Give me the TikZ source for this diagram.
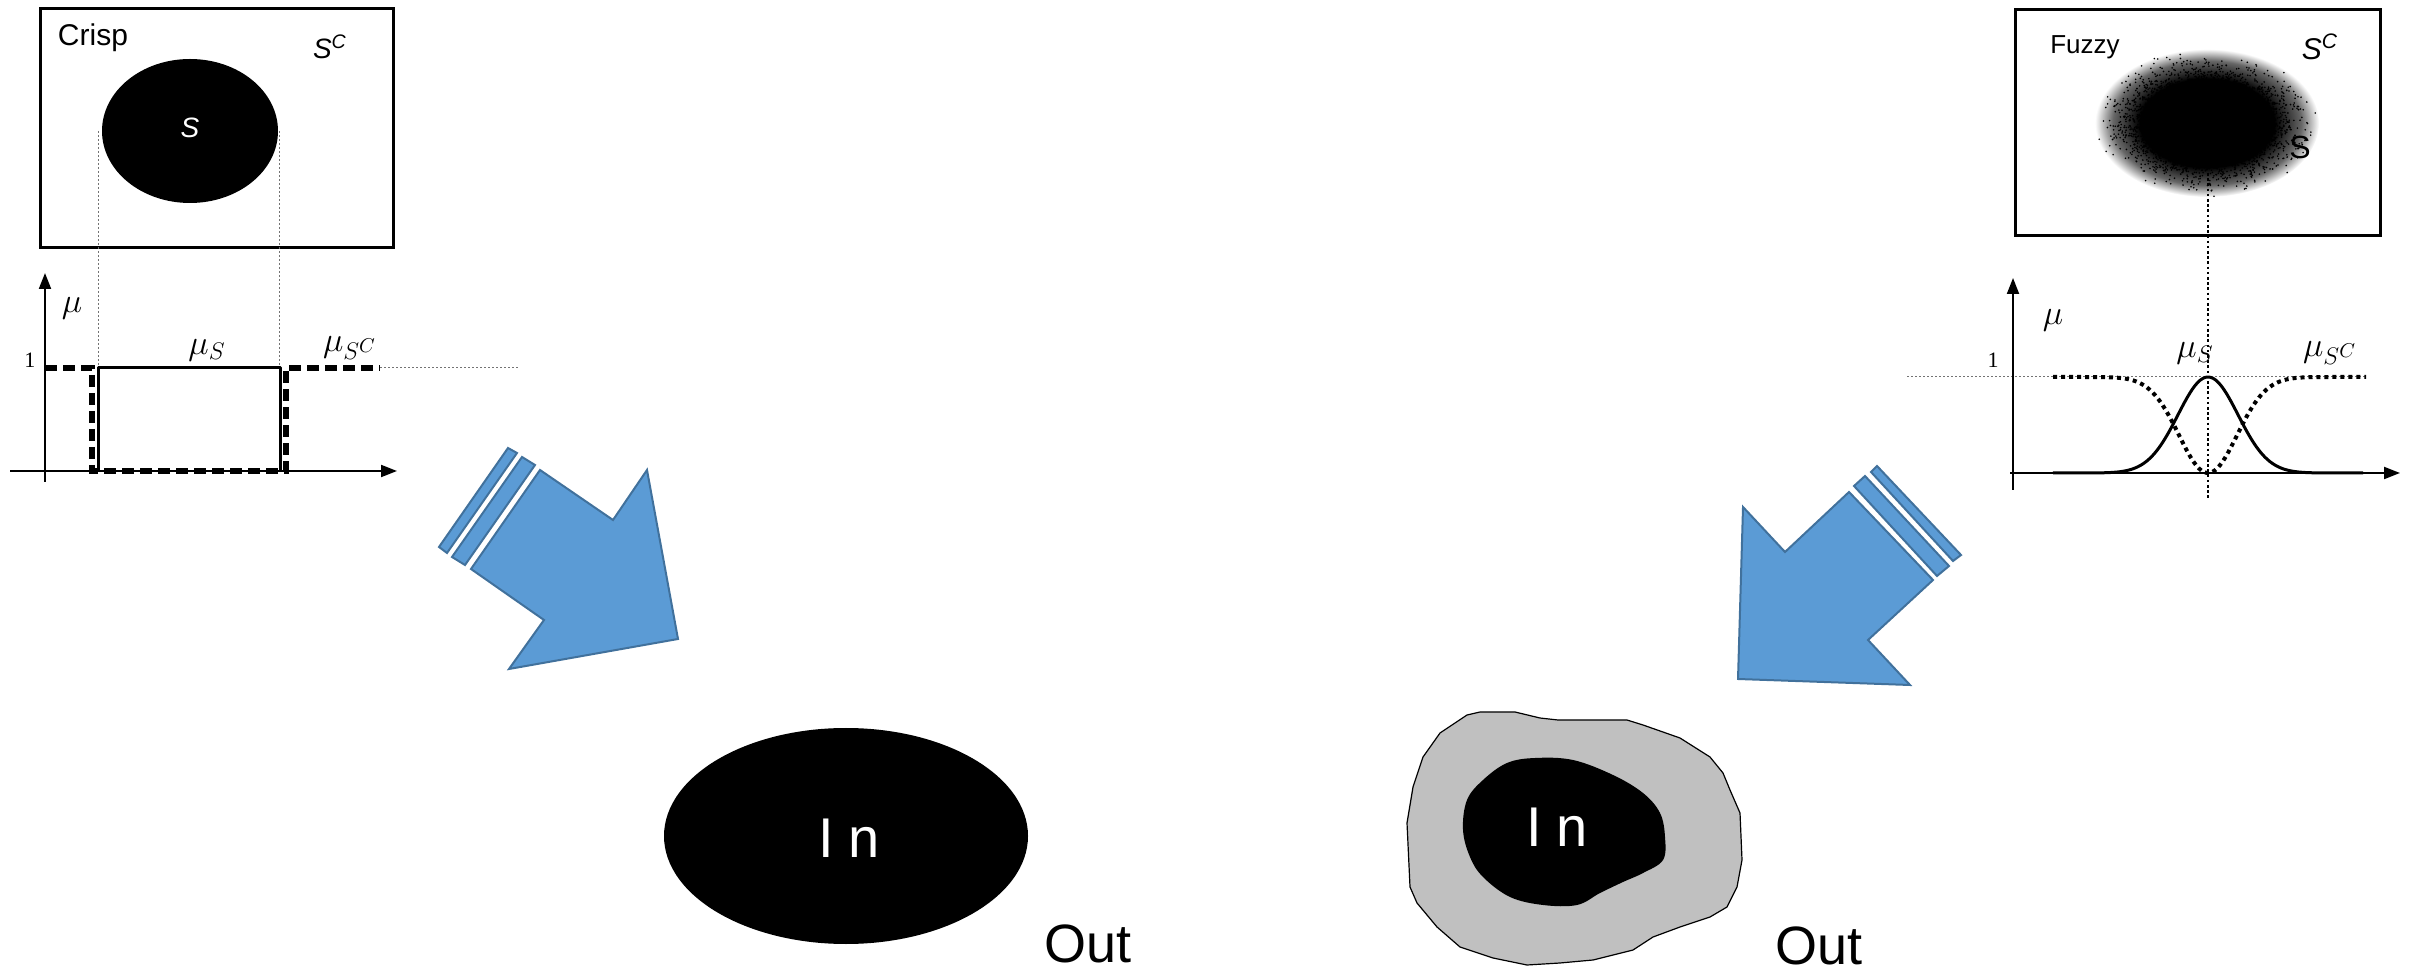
\documentclass[tikz,border=0pt]{standalone}
\usepackage{fontspec}
\setmainfont{Liberation Sans}
\newfontfamily\seriffam{Liberation Serif}
\usetikzlibrary{arrows.meta}
\definecolor{arrowblue}{HTML}{5B9BD5}
\definecolor{arrowedge}{HTML}{41719C}
\definecolor{ringgray}{HTML}{C0C0C0}
\pgfdeclareradialshading{fuzzblob}{\pgfpointorigin}{color(0bp)=(black); color(15bp)=(black); color(21bp)=(black!60); color(25bp)=(white); color(50bp)=(white)}
\begin{document}
\begin{tikzpicture}[x=0.5pt,y=-0.5pt,
  frame/.style={draw=black,line width=1.5pt},
  axis/.style={line width=1pt,-{Triangle[length=8pt,width=6pt]}},
  guide/.style={draw=black!55,line width=0.5pt,dash pattern=on 1pt off 1pt},
  vdots/.style={draw=black,line width=1.3pt,dash pattern=on 1.3pt off 1.3pt},
  mus/.style={line width=1.5pt,line join=round},
  musc/.style={line width=3pt,dash pattern=on 6pt off 3pt},
  cdots/.style={line width=2pt,dash pattern=on 2pt off 2pt},
  bigarrow/.style={fill=arrowblue,draw=arrowedge,line width=1pt,line join=miter},
  lab/.style={inner sep=0pt},
  mulab/.style={inner sep=0pt,font=\fontsize{17.28}{20}\selectfont},
  onelab/.style={inner sep=0pt,font=\seriffam\fontsize{11}{12}\selectfont},
  inlab/.style={inner sep=0pt,text=white,font=\fontsize{28}{32}\selectfont},
  outlab/.style={inner sep=0pt,font=\fontsize{27}{30}\selectfont}]
\useasboundingbox (0,0) rectangle (2414,977);

% ---------------- Crisp panel ----------------
\draw[frame] (40,9) rectangle (393,248);
\fill[black] (190,131) ellipse [x radius=88, y radius=72];
\node[lab,font=\fontsize{15}{18}\selectfont] (crisp) at (93,38) {Crisp};
\node[lab,font=\fontsize{14}{16}\selectfont] (sc1) at (330,47) {\textit{S}\textsuperscript{\textit{C}}};
\node[lab,text=white,font=\fontsize{14}{16}\selectfont] (s1) at (190,128) {\textit{S}};

\draw[guide] (98,131) -- (98,368);
\draw[guide] (279,131) -- (279,368);
\draw[guide] (380,368) -- (520,368);
\draw[mus] (98,471) -- (98,368) -- (280,368) -- (280,471);
\draw[musc] (45,368) -- (92,368) -- (92,471) -- (286,471) -- (286,368) -- (380,368);
\draw[axis] (45,482) -- (45,273);
\draw[axis] (10,471) -- (397,471);
\node[mulab] (mu1) at (72,308) {$\mu$};
\node[onelab] (one1) at (30,360) {1};
\node[mulab] (mus1) at (207,350) {$\mu_S$};
\node[mulab] (musc1) at (350,348) {$\mu_{S^C}$};

% ---------------- Fuzzy panel ----------------
\draw[frame] (2015,10) rectangle (2380,236);
\shade[shading=fuzzblob] (2207,123) ellipse [x radius=112, y radius=74];
\pgfmathsetseed{7}
\foreach \i in {1,...,1800}{
  \pgfmathsetmacro{\rr}{0.6+0.5*rnd*rnd}
  \pgfmathsetmacro{\aa}{360*rnd}
  \fill[black] ({2207+105*\rr*cos(\aa)},{123+68*\rr*sin(\aa)}) circle[radius=0.9];
}
\node[lab,font=\fontsize{13}{16}\selectfont] (fuzzy) at (2085,47) {Fuzzy};
\node[lab,font=\fontsize{15}{18}\selectfont] (sc2) at (2320,47) {\textit{S}\textsuperscript{\textit{C}}};
\node[lab,font=\fontsize{16}{18}\selectfont] (s2) at (2300,147) {S};

\draw[guide] (1907,377) -- (2367,377);
\draw[vdots] (2208,173) -- (2208,500);
\draw[mus] (2053,473) -- plot[domain=-155:155,samples=121] ({2208+\x},{473-96*exp(-0.5*(\x/30)^2)});
\draw[cdots] plot[domain=-155:158,samples=121] ({2208+\x},{473-96*(1-exp(-0.5*(\x/29)^2))});
\draw[axis] (2013,490) -- (2013,278);
\draw[axis] (2010,473) -- (2400,473);
\node[mulab] (mu2) at (2053,320) {$\mu$};
\node[onelab] (one2) at (1993,360) {1};
\node[mulab] (mus2) at (2195,353) {$\mu_S$};
\node[mulab] (musc2) at (2330,353) {$\mu_{S^C}$};

% ---------------- Big arrows ----------------
\draw[bigarrow] (508,448) -- (517,453) -- (447,553) -- (439,547) -- cycle;
\draw[bigarrow] (522,457) -- (535,465) -- (465,565) -- (452,557) -- cycle;
\draw[bigarrow] (471,569) -- (540,470) -- (613,520) -- (647,470) -- (678,639) -- (509,669) -- (544,620) -- cycle;

\draw[bigarrow] (1877,466) -- (1961,555) -- (1953,561) -- (1871,472) -- cycle;
\draw[bigarrow] (1865,476) -- (1949,566) -- (1937,576) -- (1854,486) -- cycle;
\draw[bigarrow] (1849,492) -- (1933,580) -- (1868,640) -- (1910,685) -- (1738,679) -- (1743,507) -- (1785,552) -- cycle;

% ---------------- Crisp result ----------------
\fill[black] (846,836) ellipse [x radius=182, y radius=108];
\node[inlab] (in1) at (849,838) {I\hspace{7pt}n};
\node[outlab] (out1) at (1088,944) {Out};

% ---------------- Fuzzy result ----------------
\draw[fill=ringgray,draw=black,line width=0.6pt,line join=round]
  (1480,712) -- (1515,712) -- (1540,718) -- (1558,720) -- (1627,720) -- (1643,725) -- (1680,738) -- (1710,757) -- (1723,773) -- (1730,790) -- (1740,813) -- (1742,860) -- (1737,887) -- (1727,907) -- (1710,917) -- (1680,927) -- (1653,937) -- (1633,950) -- (1593,960) -- (1560,963) -- (1527,965) -- (1493,958) -- (1460,947) -- (1437,927) -- (1417,903) -- (1410,887) -- (1407,823) -- (1413,787) -- (1423,757) -- (1440,733) -- (1467,715) -- cycle;
\fill[black] plot[smooth cycle,tension=0.6] coordinates {(1535,758) (1573,760) (1613,775) (1643,793) (1660,813) (1665,837) (1663,860) (1643,873) (1623,882) (1600,893) (1577,905) (1543,905) (1510,897) (1483,877) (1470,857) (1463,830) (1467,800) (1483,780) (1507,763)};
\node[inlab] (in2) at (1557,827) {I\hspace{7pt}n};
\node[outlab] (out2) at (1819,946) {Out};
\end{tikzpicture}
\end{document}
